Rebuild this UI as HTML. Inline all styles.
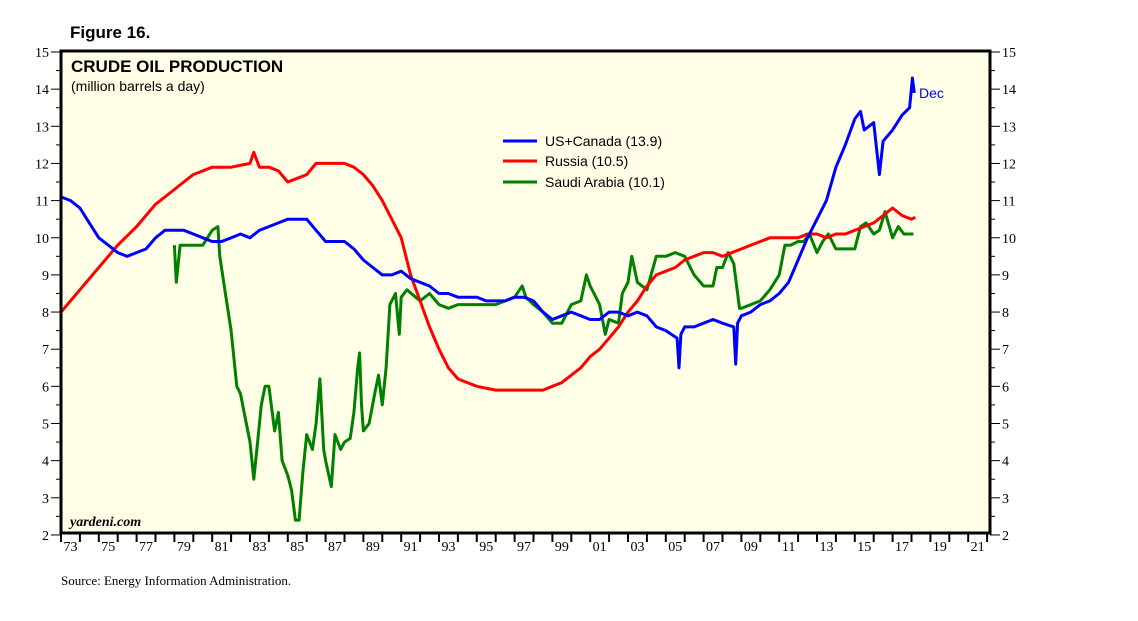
<!DOCTYPE html>
<html><head><meta charset="utf-8"><style>
body{margin:0;background:#fff;}
svg{display:block;font-family:"Liberation Sans",sans-serif;}
</style></head><body>
<svg width="1138" height="621">
<text x="70" y="38" font-size="17" font-weight="bold" fill="#000">Figure 16.</text>
<rect x="61" y="51" width="929" height="482" fill="#fffee6"/>
<g id="axes"></g>
<g id="series"></g>
<rect x="61" y="51" width="929" height="482" fill="none" stroke="#000" stroke-width="3"/>
<text x="71" y="72" font-size="17" font-weight="bold">CRUDE OIL PRODUCTION</text>
<text x="71" y="91" font-size="14">(million barrels a day)</text>
<text x="70" y="526" font-size="14" font-style="italic" font-weight="bold" font-family="Liberation Serif,serif">yardeni.com</text>
<text x="61" y="585" font-size="13" font-family="Liberation Serif,serif">Source: Energy Information Administration.</text>
<g>
<g><line x1="503" y1="141" x2="537" y2="141" stroke="#0000ff" stroke-width="3"/><text x="545" y="146" font-size="14">US+Canada (13.9)</text></g>
<g><line x1="503" y1="161" x2="537" y2="161" stroke="#ff0000" stroke-width="3"/><text x="545" y="166" font-size="14">Russia (10.5)</text></g>
<g><line x1="503" y1="182" x2="537" y2="182" stroke="#008000" stroke-width="3"/><text x="545" y="187" font-size="14">Saudi Arabia (10.1)</text></g>
</g>
<text x="919" y="98" font-size="14" fill="#0000ff">Dec</text>
</svg>
<script>
const yTicks=[2,3,4,5,6,7,8,9,10,11,12,13,14,15];
const xLabels=["73","75","77","79","81","83","85","87","89","91","93","95","97","99","01","03","05","07","09","11","13","15","17","19","21"];
const usYears=[1973,1973.5,1974,1974.5,1975,1975.5,1976,1976.5,1977,1977.5,1978,1978.5,1979,1979.5,1980,1980.5,1981,1981.5,1982,1982.5,1983,1983.5,1984,1984.5,1985,1985.5,1986,1986.5,1987,1987.5,1988,1988.5,1989,1989.5,1990,1990.5,1991,1991.5,1992,1992.5,1993,1993.5,1994,1994.5,1995,1995.5,1996,1996.5,1997,1997.5,1998,1998.5,1999,1999.5,2000,2000.5,2001,2001.5,2002,2002.5,2003,2003.5,2004,2004.5,2005,2005.6,2005.7,2005.8,2006,2006.5,2007,2007.5,2008,2008.6,2008.7,2008.8,2009,2009.5,2010,2010.5,2011,2011.5,2012,2012.5,2013,2013.5,2014,2014.5,2015,2015.3,2015.5,2016,2016.3,2016.5,2017,2017.5,2017.9,2018.05,2018.15];
const usVals=[11.1,11.0,10.8,10.4,10.0,9.8,9.6,9.5,9.6,9.7,10.0,10.2,10.2,10.2,10.1,10.0,9.9,9.9,10.0,10.1,10.0,10.2,10.3,10.4,10.5,10.5,10.5,10.2,9.9,9.9,9.9,9.7,9.4,9.2,9.0,9.0,9.1,8.9,8.8,8.7,8.5,8.5,8.4,8.4,8.4,8.3,8.3,8.3,8.4,8.4,8.3,8.0,7.8,7.9,8.0,7.9,7.8,7.8,8.0,8.0,7.9,8.0,7.9,7.6,7.5,7.3,6.5,7.4,7.6,7.6,7.7,7.8,7.7,7.6,6.6,7.7,7.9,8.0,8.2,8.3,8.5,8.8,9.4,10.0,10.5,11.0,11.9,12.5,13.2,13.4,12.9,13.1,11.7,12.6,12.9,13.3,13.5,14.3,13.9];
const ruYears=[1973,1974,1975,1976,1977,1978,1979,1979.5,1980,1981,1982,1983,1983.2,1983.5,1984,1984.5,1985,1985.5,1986,1986.5,1987,1987.5,1988,1988.5,1989,1989.5,1990,1990.5,1991,1991.5,1992,1992.5,1993,1993.5,1994,1994.5,1995,1996,1997,1998,1998.5,1999,1999.5,2000,2000.5,2001,2001.5,2002,2002.5,2003,2003.5,2004,2004.5,2005,2005.5,2006,2006.5,2007,2007.5,2008,2008.5,2009,2009.5,2010,2010.5,2011,2011.5,2012,2012.5,2013,2013.5,2014,2014.5,2015,2015.5,2016,2016.5,2017,2017.5,2018,2018.2];
const ruVals=[8.0,8.6,9.2,9.8,10.3,10.9,11.3,11.5,11.7,11.9,11.9,12.0,12.3,11.9,11.9,11.8,11.5,11.6,11.7,12.0,12.0,12.0,12.0,11.9,11.7,11.4,11.0,10.5,10.0,9.0,8.3,7.6,7.0,6.5,6.2,6.1,6.0,5.9,5.9,5.9,5.9,6.0,6.1,6.3,6.5,6.8,7.0,7.3,7.6,8.0,8.3,8.7,9.0,9.1,9.2,9.4,9.5,9.6,9.6,9.5,9.6,9.7,9.8,9.9,10.0,10.0,10.0,10.0,10.1,10.1,10.0,10.1,10.1,10.2,10.3,10.4,10.6,10.8,10.6,10.5,10.55];
const saYears=[1979,1979.1,1979.3,1980,1980.5,1981,1981.3,1981.4,1981.7,1982,1982.3,1982.5,1983,1983.2,1983.4,1983.6,1983.8,1984,1984.3,1984.5,1984.7,1985,1985.2,1985.4,1985.6,1985.8,1986,1986.3,1986.5,1986.7,1986.9,1987,1987.3,1987.5,1987.8,1988,1988.3,1988.5,1988.7,1988.8,1988.9,1989,1989.3,1989.6,1989.8,1990,1990.2,1990.4,1990.7,1990.9,1991,1991.3,1992,1992.5,1993,1993.5,1994,1995,1996,1997,1997.4,1997.6,1998,1998.5,1999,1999.5,2000,2000.5,2000.8,2001,2001.5,2001.8,2002,2002.5,2002.7,2003,2003.2,2003.5,2004,2004.5,2005,2005.5,2006,2006.5,2007,2007.5,2007.7,2008,2008.3,2008.6,2008.9,2009,2009.5,2010,2010.5,2011,2011.3,2011.6,2012,2012.3,2012.6,2013,2013.3,2013.6,2014,2014.5,2015,2015.3,2015.6,2016,2016.3,2016.6,2017,2017.3,2017.6,2018.1];
const saVals=[9.8,8.8,9.8,9.8,9.8,10.2,10.3,9.5,8.5,7.5,6.0,5.8,4.5,3.5,4.5,5.5,6.0,6.0,4.8,5.3,4.0,3.6,3.2,2.4,2.4,3.7,4.7,4.3,5.0,6.2,4.3,4.0,3.3,4.7,4.3,4.5,4.6,5.3,6.5,6.9,5.5,4.8,5.0,5.8,6.3,5.5,6.5,8.2,8.5,7.4,8.4,8.6,8.3,8.5,8.2,8.1,8.2,8.2,8.2,8.4,8.7,8.4,8.2,8.0,7.7,7.7,8.2,8.3,9.0,8.7,8.2,7.4,7.8,7.7,8.5,8.8,9.5,8.8,8.6,9.5,9.5,9.6,9.5,9.0,8.7,8.7,9.2,9.2,9.6,9.3,8.1,8.1,8.2,8.3,8.6,9.0,9.8,9.8,9.9,9.9,10.1,9.6,9.9,10.1,9.7,9.7,9.7,10.3,10.4,10.1,10.2,10.7,10.0,10.3,10.1,10.1];

const NS="http://www.w3.org/2000/svg";
const L=61,R=990,T=51,B=533;
function xs(yr){return L+(yr-1973)*18.9;}
function ys(v){return 52+(15-v)*37.15;}
const axes=document.getElementById('axes');
function mk(tag,attrs,parent){const e=document.createElementNS(NS,tag);for(const k in attrs)e.setAttribute(k,attrs[k]);parent.appendChild(e);return e;}
yTicks.forEach(v=>{
  const y=ys(v);
  const tl=mk('line',{x1:L-10,y1:y,x2:L,y2:y,stroke:'#000','stroke-width':1},axes);
  
  
  const tr=mk('line',{x1:R,y1:y,x2:R+10,y2:y,stroke:'#000','stroke-width':1},axes);
  
  
  if(v<15){
    const ym=ys(v+0.5);
    mk('line',{x1:L-5,y1:ym,x2:L,y2:ym,stroke:'#000'},axes);
    mk('line',{x1:R,y1:ym,x2:R+5,y2:ym,stroke:'#000'},axes);
  }
  const a=mk('text',{x:L-12,y:y+5,'font-size':14,'text-anchor':'end','font-family':'Liberation Serif,serif'},axes);
  a.textContent=v;
  
  
  const b=mk('text',{x:R+12,y:y+5,'font-size':14,'font-family':'Liberation Serif,serif'},axes);
  b.textContent=v;
  
  
});
for(let yr=1973;yr<=2022;yr++){
  const x=xs(yr);
  const t=mk('line',{x1:x,y1:B,x2:x,y2:B+9,stroke:'#000','stroke-width':2},axes);
  
  
}
xLabels.forEach((s,i)=>{
  const yr=1973+2*i;
  const t=mk('text',{x:xs(yr+0.5),y:B+18,'font-size':14,'text-anchor':'middle','font-family':'Liberation Serif,serif'},axes);
  t.textContent=s;
  
  
});
const sg=document.getElementById('series');
function line(years,vals,color,name){
  const d=years.map((yr,i)=>(i?'L':'M')+xs(yr).toFixed(1)+' '+ys(vals[i]).toFixed(1)).join(' ');
  const p=mk('path',{d:d,fill:'none',stroke:color,'stroke-width':3,'stroke-linejoin':'round'},sg);
  
  
}
line(saYears,saVals,'#008000','saudi-arabia-line');
line(ruYears,ruVals,'#ff0000','russia-line');
line(usYears,usVals,'#0000ff','us-canada-line');
</script>
</body></html>
